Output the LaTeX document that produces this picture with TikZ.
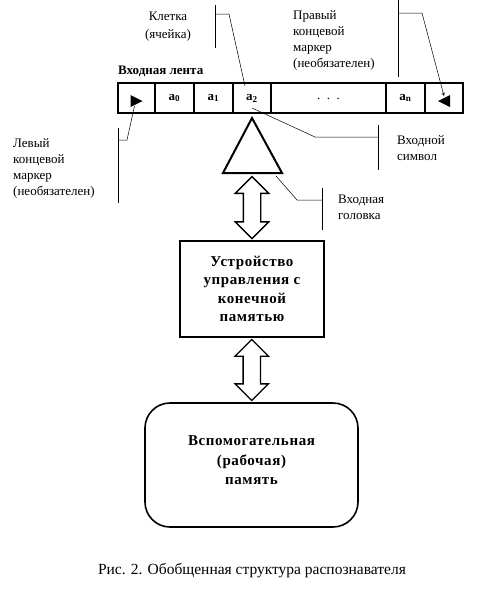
\documentclass[tikz,border=0pt]{standalone}
\usepackage{fontspec}
\setmainfont{Liberation Serif}
\usetikzlibrary{arrows, positioning, shapes.arrows, calc}

\tikzset{
  cell/.style={draw, line width=1.4pt, minimum height=30pt, inner sep=0pt, outer sep=0pt, font=\fontsize{13}{13}\selectfont\bfseries},
  note/.style={align=left, anchor=north west, inner sep=0pt, font=\fontsize{13}{16}\selectfont},
  boxtext/.style={align=center, font=\fontsize{15}{18.5}\selectfont\bfseries\addfontfeatures{LetterSpace=4}},
  ptr/.style={line width=0.5pt},
  dbl/.style={double arrow, draw, line width=1.4pt, rotate=90, inner xsep=0pt, inner ysep=8pt, double arrow head extend=8pt, minimum height=62pt},
  endmark/.style={fill=black}
}

\begin{document}
\begin{tikzpicture}[x=1pt, y=-1pt]
    \useasboundingbox (0,0) rectangle (477,590);

    % Input tape
    \node[font=\fontsize{13}{13}\selectfont\bfseries, anchor=west, inner sep=0pt] (tapelbl) at (118,71) {Входная лента};
    \node[cell, minimum width=37pt, anchor=north west] (c0) at (118,83) {};
    \node[cell, minimum width=39pt, right=0pt of c0] (c1) {\raisebox{-3pt}{a\textsubscript{0}}};
    \node[cell, minimum width=39pt, right=0pt of c1] (c2) {\raisebox{-3pt}{a\textsubscript{1}}};
    \node[cell, minimum width=38pt, right=0pt of c2] (c3) {\raisebox{-3pt}{a\textsubscript{2}}};
    \node[cell, minimum width=115pt, right=0pt of c3] (c4) {\raisebox{-3pt}{\mdseries .\ \ .\ \ .}};
    \node[cell, minimum width=39pt, right=0pt of c4] (c5) {\raisebox{-3pt}{a\textsubscript{n}}};
    \node[cell, minimum width=38pt, right=0pt of c5] (c6) {};

    % End markers
    \fill[endmark] ($(c0.center)+(-6,-3)$) -- ++(12,6) -- ++(-12,6) -- cycle;
    \fill[endmark] ($(c6.center)+(6,-3)$) -- ++(-12,6) -- ++(12,6) -- cycle;
    \coordinate (lmark) at ($(c0.center)+(-2,8)$);
    \coordinate (rmark) at ($(c6.center)+(0,-2)$);

    % Head
    \draw[line width=2pt] (252,118) -- (282,173) -- (223,173) -- cycle;
    \coordinate (head) at (252,175);

    % Control unit and memory
    \node[draw, line width=1.6pt, minimum width=144pt, minimum height=96pt, boxtext] (cu) at (252,289)
        {Устройство\\управления с\\конечной\\памятью};
    \node[draw, line width=1.6pt, rounded corners=25pt, minimum width=213pt, minimum height=124pt, boxtext, text depth=10pt] (mem) at (251.5,465)
        {Вспомогательная\\[2pt](рабочая)\\память};

    % Double arrows
    \node[dbl] (ar1) at ($(head)!0.5!(cu.north)$) {};
    \node[dbl, minimum height=61pt] (ar2) at ($(cu.south)!0.5!(mem.north)$) {};

    % Cell label
    \node[note, align=center, anchor=north, font=\fontsize{13}{18}\selectfont] (celllbl) at (168,12) {Клетка\\(ячейка)};
    \draw[ptr] (215,5) -- (215,48);
    \coordinate (k1) at (215,14);
    \coordinate (k2) at (229,14);
    \draw[ptr] (k1) -- (k2) -- ($(c3.north)+(-7,3)$);

    % Right marker label
    \node[note] (rlbl) at (293,10) {Правый\\концевой\\маркер\\(необязателен)};
    \draw[ptr] (398,0) -- (398,77);
    \coordinate (r1) at (398,13);
    \coordinate (r2) at (422,13);
    \draw[ptr, -stealth] (r1) -- (r2) -- (rmark);

    % Left marker label
    \node[note] (llbl) at (13,138) {Левый\\концевой\\маркер\\(необязателен)};
    \draw[ptr] (118,128) -- (118,203);
    \coordinate (l1) at (118,140);
    \coordinate (l2) at (127,140);
    \draw[ptr] (l1) -- (l2) -- (lmark);

    % Input symbol label
    \node[note] (symlbl) at (397,135) {Входной\\символ};
    \draw[ptr] (378,125) -- (378,170);
    \coordinate (s1) at (378,137);
    \coordinate (s2) at (315,137);
    \draw[ptr] (s1) -- (s2) -- (252,108);

    % Head label
    \node[note] (headlbl) at (338,195) {Входная\\головка};
    \draw[ptr] (322,188) -- (322,230);
    \coordinate (h1) at (322,200);
    \coordinate (h2) at (297,200);
    \draw[ptr] (h1) -- (h2) -- (276,176);

    % Caption
    \node[font=\fontsize{15.5}{16}\selectfont] (caption) at (252,571) {Рис. 2. Обобщенная структура распознавателя};
\end{tikzpicture}
\end{document}
